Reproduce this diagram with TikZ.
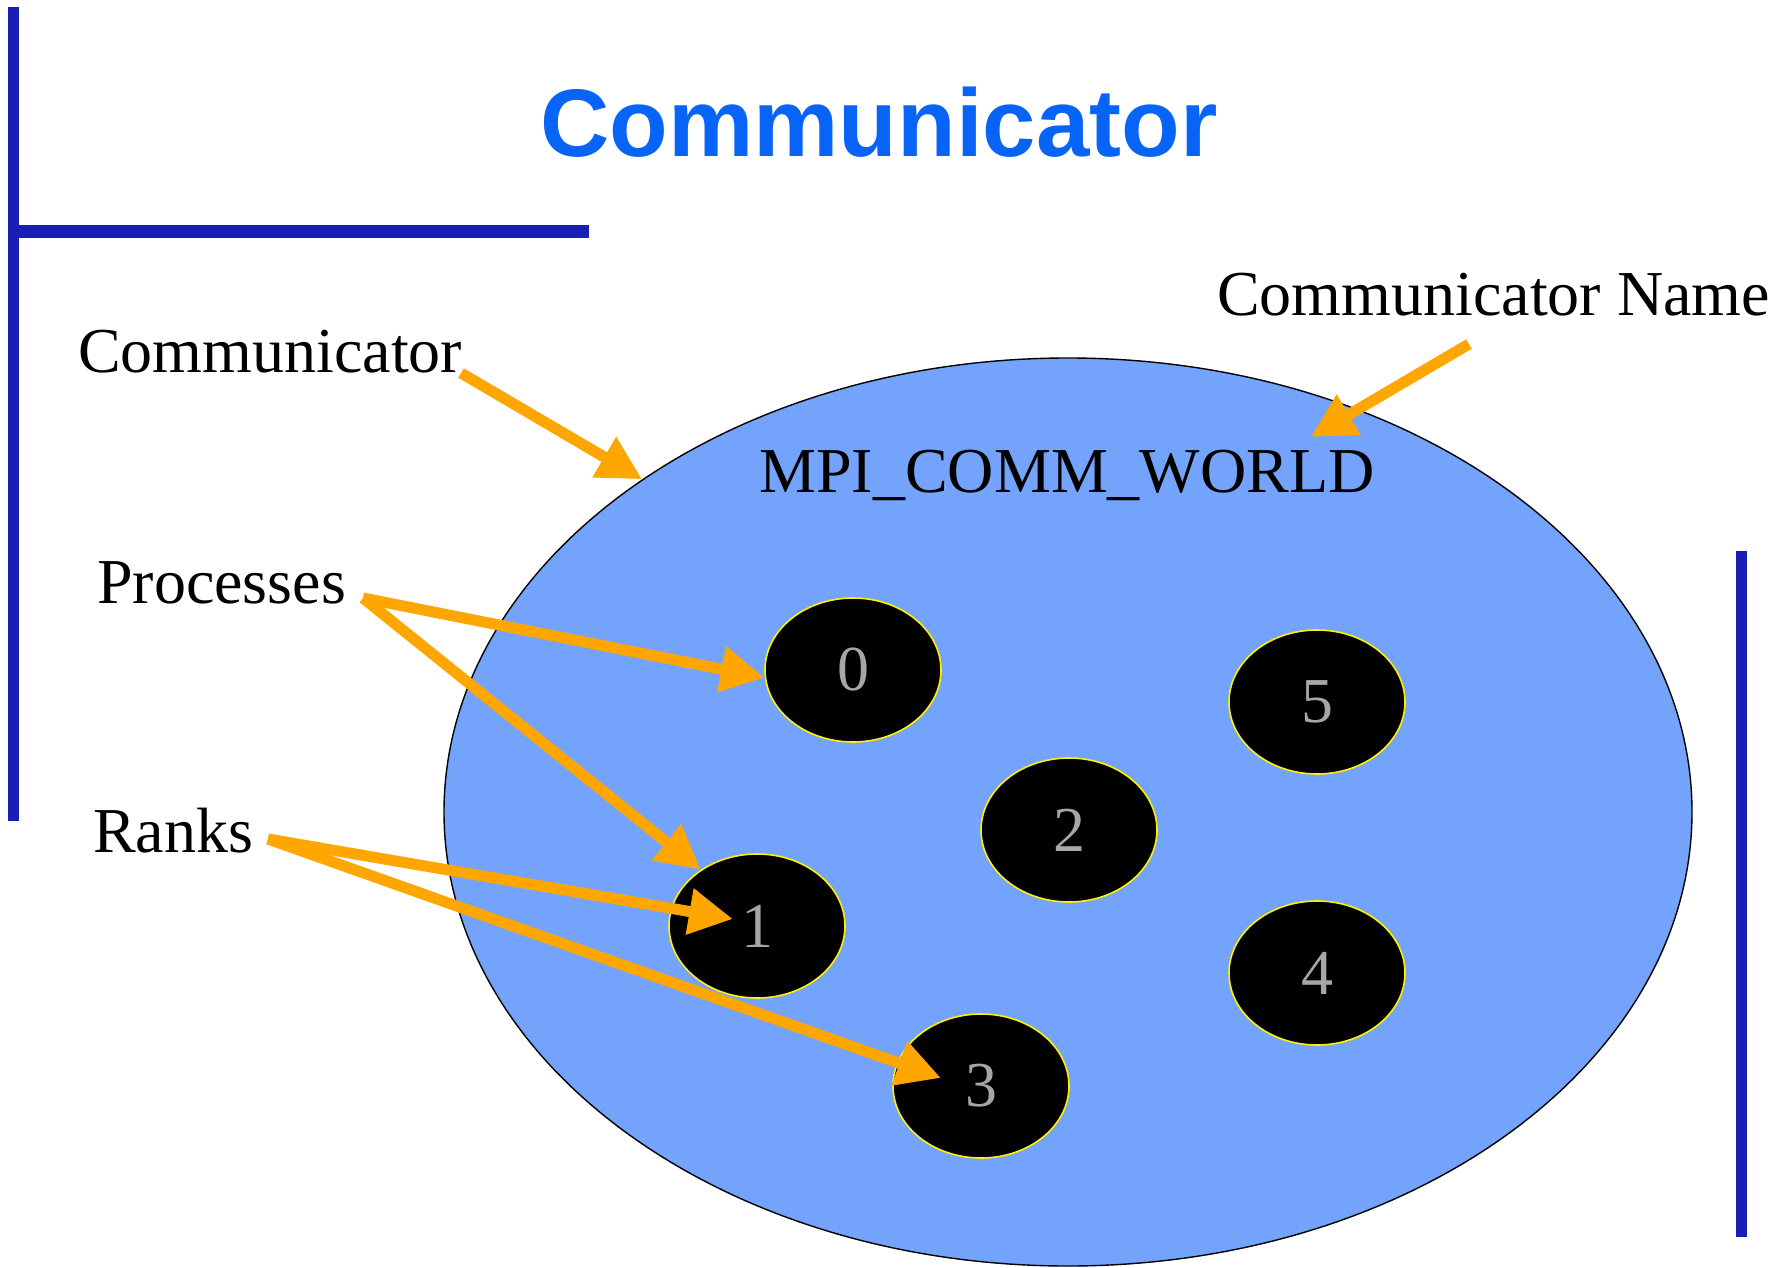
\documentclass[tikz,border=0pt]{standalone}
\usepackage{fontspec}
\setmainfont{Liberation Serif}
\newfontfamily\headfont{Liberation Sans}
\usetikzlibrary{shapes.geometric,arrows.meta}

\definecolor{rulebar}{RGB}{26,30,180}
\definecolor{headblue}{RGB}{8,100,246}
\definecolor{worldfill}{RGB}{115,163,250}
\definecolor{rankgrey}{RGB}{166,166,166}
\definecolor{pointer}{RGB}{255,166,0}

\tikzset{
  bar/.style={draw=rulebar, line width=11pt},
  label/.style={anchor=base west, inner sep=0pt, font=\fontsize{64}{64}\selectfont},
  proc/.style={ellipse, draw=yellow, line width=1.6pt, fill=black,
    minimum width=176pt, minimum height=144pt, inner sep=0pt,
    text=rankgrey, font=\fontsize{64}{64}\selectfont},
  pointer/.style={draw=pointer, line width=11pt,
    -{Triangle[length=44pt,width=44pt]}}
}

\begin{document}
\begin{tikzpicture}[x=1pt,y=-1pt]
\useasboundingbox (0,0) rectangle (1785,1268);

% frame bars
\draw[bar] (13,7) -- (13,821);
\draw[draw=rulebar, line width=13pt] (8,231) -- (589,231);
\draw[bar] (1741,551) -- (1741,1237);

% heading
\node[anchor=base, inner sep=0pt, text=headblue,
  font=\headfont\bfseries\fontsize{96}{96}\selectfont] (title) at (879,157) {Communicator};

% the communicator
\node[ellipse, draw=black, line width=1.4pt, fill=worldfill,
  minimum width=1248pt, minimum height=908pt, inner sep=0pt] (world) at (1068,812) {};
\node[anchor=base, inner sep=0pt, font=\fontsize{64}{64}\selectfont] (mpi) at (1067,492) {MPI\_COMM\_WORLD};

% processes with their ranks
\node[proc] (p0) at (853,670) {0};
\node[proc] (p1) at (757,926) {1};
\node[proc] (p2) at (1069,830) {2};
\node[proc] (p3) at (981,1086) {3};
\node[proc] (p4) at (1317,973) {4};
\node[proc] (p5) at (1317,702) {5};

% labels
\node[label] (lcomm) at (78,372) {Communicator};
\node[label] (lname) at (1217,315) {Communicator Name};
\node[label] (lproc) at (97,603) {Processes};
\node[label] (lrank) at (93,852) {Ranks};

% arrow tails
\coordinate (tcomm) at (461,373);
\coordinate (tname) at (1469,344);
\coordinate (tproc) at (363,598);
\coordinate (trank) at (268,839);

% pointers
\draw[pointer] (tcomm) -- (world.142.85);
\draw[pointer] (tname) -- ([shift={(-64pt,55pt)}]mpi.base east);
\draw[pointer] (tproc) -- (p0.185);
\draw[pointer] (tproc) -- (p1.135.5);
\draw[pointer] (trank) -- ([shift={(-24pt,7pt)}]p1.center);
\draw[pointer] (trank) -- ([shift={(-40pt,8pt)}]p3.center);
\end{tikzpicture}
\end{document}
